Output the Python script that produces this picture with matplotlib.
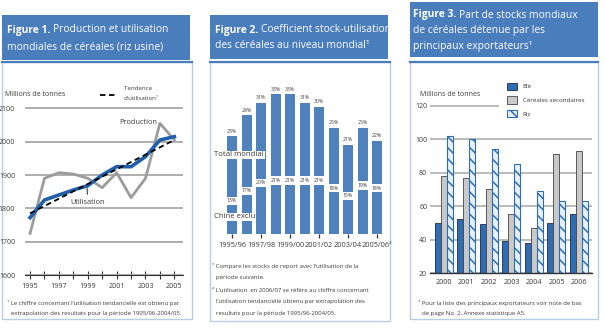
import matplotlib
matplotlib.use('Agg')
import matplotlib.pyplot as plt
from matplotlib.patches import Rectangle, Patch

plt.rcParams['font.family'] = ['Open Sans', 'DejaVu Sans']
plt.rcParams['hatch.linewidth'] = 1.1

# ---------------- data ----------------
years = [1995, 1996, 1997, 1998, 1999, 2000, 2001, 2002, 2003, 2004, 2005]
production = [1725, 1890, 1907, 1903, 1890, 1862, 1907, 1832, 1890, 2055, 2005]
utilisation = [1772, 1825, 1840, 1855, 1868, 1900, 1925, 1925, 1955, 2005, 2015]
tendance = [1785, 1807, 1829, 1851, 1873, 1895, 1917, 1939, 1961, 1983, 2005]
year_labels = ['1995', '', '1997', '', '1999', '', '2001', '', '2003', '', '2005']

seasons = ['1995/96', '1996/97', '1997/98', '1998/99', '1999/00', '2000/01',
           '2001/02', '2002/03', '2003/04', '2004/05', '2005/06']
season_labels = ['1995/96', '1997/98', '1999/00', '2001/02', '2003/04', '2005/06²']
total_mondial = [23, 28, 31, 33, 33, 31, 30, 25, 21, 25, 22]
chine_exclu = [13, 17, 20, 21, 21, 21, 21, 18, 15, 19, 18]

years3 = ['2000', '2001', '2002', '2003', '2004', '2005', '2006']
ble = [50, 52, 49, 39, 38, 50, 55]
cereales = [78, 77, 70, 55, 47, 91, 93]
riz = [102, 100, 94, 85, 69, 63, 63]

# ---------------- styles ----------------
W, H = 605, 328
HEAD = '#4a7dbb'
BORDER = '#b9cde5'
TXT = '#3a3a3a'
GRID = '#a8a8a8'
BAR2 = '#4f81bd'

fig = plt.figure(figsize=(W / 100, H / 100), dpi=100)
renderer = fig.canvas.get_renderer()


def axes_px(x0, y0, x1, y1):
    return [x0 / W, 1 - y1 / H, (x1 - x0) / W, (y1 - y0) / H]


bg = fig.add_axes([0, 0, 1, 1], zorder=0)
bg.set_xlim(0, W)
bg.set_ylim(H, 0)
bg.axis('off')

fg = fig.add_axes([0, 0, 1, 1], zorder=10)
fg.set_xlim(0, W)
fg.set_ylim(H, 0)
fg.axis('off')

panels = [
    dict(hx=(2, 190), hy=(15, 60), bx=(2, 192), by=(62, 319)),
    dict(hx=(210, 388), hy=(15, 59), bx=(210, 390), by=(62, 321)),
    dict(hx=(410, 598), hy=(2, 57), bx=(410, 598), by=(62, 319)),
]
for p in panels:
    bg.add_patch(Rectangle((p['hx'][0], p['hy'][0]), p['hx'][1] - p['hx'][0],
                           p['hy'][1] - p['hy'][0], facecolor=HEAD, edgecolor='none'))
    bg.add_patch(Rectangle((p['bx'][0], p['by'][0]), p['bx'][1] - p['bx'][0],
                           p['by'][1] - p['by'][0], facecolor='white', edgecolor=BORDER, lw=1.0))
    bg.plot([p['bx'][0], p['bx'][1]], [p['by'][0], p['by'][0]], color=HEAD, lw=1.6)

HSIZE = 7.4


def header_line(x, y, bold, rest):
    if bold:
        t = fg.text(x, y, bold, fontsize=HSIZE, fontweight='bold', color='white', va='center')
        bb = t.get_window_extent(renderer=renderer)
        x = fg.transData.inverted().transform((bb.x1, bb.y0))[0] + 2.5
    fg.text(x, y, rest, fontsize=HSIZE, color='white', va='center')


header_line(7, 30, 'Figure 1.', 'Production et utilisation')
header_line(7, 47, '', 'mondiales de céréales (riz usine)')
header_line(215, 30, 'Figure 2.', 'Coefficient stock-utilisation')
header_line(215, 46, '', 'des céréales au niveau mondial¹')
header_line(413, 15, 'Figure 3.', 'Part de stocks mondiaux')
header_line(413, 31, '', 'de céréales détenue par les')
header_line(413, 47, '', 'principaux exportateurs¹')

FN = 4.3


def footnote(x, y, s):
    fg.text(x, y, s, fontsize=FN, color=TXT, va='center')


# ---------------- panel 1 ----------------
ax1 = fig.add_axes(axes_px(25, 100, 183, 275), zorder=2)
ax1.patch.set_alpha(0)
ax1.set_xlim(1994.65, 2005.6)
ax1.set_ylim(1600, 2125)
ax1.set_yticks([1600, 1700, 1800, 1900, 2000, 2100])
ax1.yaxis.grid(True, color=GRID, lw=1.3)
ax1.set_axisbelow(True)
ax1.plot(years, production, color='#9c9c9c', lw=2.0, zorder=3)
ax1.plot(years, utilisation, color='#1f5ea8', lw=2.6, zorder=4)
ax1.plot(years, tendance, color='black', lw=1.3, ls=(0, (3, 2)), zorder=5)
ax1.set_xticks(years)
ax1.set_xticklabels(year_labels)
for s in ['top', 'right', 'left']:
    ax1.spines[s].set_visible(False)
ax1.spines['bottom'].set_color('#333333')
ax1.spines['bottom'].set_linewidth(0.8)
ax1.tick_params(axis='x', direction='inout', length=6, width=0.8, color='#333333',
                labelsize=5.2, labelcolor=TXT, pad=3)
ax1.tick_params(axis='y', length=0, labelsize=5.0, labelcolor=TXT, pad=7)
ax1.text(2002.5, 2059, 'Production', fontsize=5.3, color=TXT, ha='center', va='center')
ax1.annotate('Utilisation', xy=(1998.95, 1861), xytext=(1999.0, 1819), fontsize=5.3,
             color=TXT, ha='center', va='center',
             arrowprops=dict(arrowstyle='-', color='#222222', lw=0.7, shrinkA=1, shrinkB=0))

fg.text(5, 95, 'Millions de tonnes', fontsize=5.0, color=TXT, va='center')
fg.plot([100, 118], [95, 95], color='black', lw=1.3, ls=(0, (3, 2)))
fg.text(124, 89, 'Tendence', fontsize=4.4, color=TXT, va='center')
fg.text(124, 98, "d'utilisation¹", fontsize=4.4, color=TXT, va='center')
footnote(7, 303, '¹ Le chiffre concernant l\u2019utilisation tendancielle est obtenu par')
footnote(11, 313, 'extrapolation des resultats pour la période 1995/96-2004/05.')

# ---------------- panel 2 ----------------
ax2 = fig.add_axes(axes_px(222, 70, 386, 234), zorder=2)
ax2.patch.set_alpha(0)
x2 = list(range(len(seasons)))
ax2.set_xlim(-0.69, 10.62)
ax2.set_ylim(0, 164 / 4.24)
ax2.bar(x2, total_mondial, width=0.69, color=BAR2, edgecolor='none')
for i, v in zip(x2, total_mondial):
    ax2.text(i, v + 0.6, f'{v}%', ha='center', va='bottom', fontsize=3.7, color=TXT)
ax2.set_xticks(x2[::2])
ax2.set_xticklabels(season_labels)
ax2.set_yticks([])
for s in ['top', 'right', 'left', 'bottom']:
    ax2.spines[s].set_visible(False)
ax2.tick_params(axis='x', direction='out', length=3, width=0.9, color='#333333',
                labelsize=5.3, labelcolor=TXT, pad=2.5)

ax2b = ax2.twinx()
ax2b.set_ylim(0, 164 / 2.55)
band = 3.2
ax2b.bar(x2, [band] * len(x2), bottom=[c - band / 2 for c in chine_exclu], width=0.9,
         color='white', edgecolor='none')
for i, c in zip(x2, chine_exclu):
    ax2b.text(i, c, f'{c}%', ha='center', va='center', fontsize=3.7, color=TXT)
ax2b.set_yticks([])
for s in ['top', 'right', 'left', 'bottom']:
    ax2b.spines[s].set_visible(False)

fg.text(214, 155, 'Total mondial', fontsize=5.6, color=TXT, va='center',
        bbox=dict(facecolor='white', edgecolor='none', pad=0.6))
fg.text(214, 217, 'Chine exclu', fontsize=5.6, color=TXT, va='center',
        bbox=dict(facecolor='white', edgecolor='none', pad=0.6))

footnote(212, 266, '¹ Compare les stocks de report avec l\u2019utilisation de la')
footnote(216, 278, 'période suivante.')
footnote(212, 290, '² L\u2019utilisation  en 2006/07 se réfère au chiffre concernant')
footnote(216, 302, 'l\u2019utilisation tendancielle obtenu par extrapolation des')
footnote(216, 313, 'resultats pour la période 1995/96-2004/05.')

# ---------------- panel 3 ----------------
ax3 = fig.add_axes(axes_px(430, 100, 592, 273), zorder=2)
ax3.patch.set_alpha(0)
x3 = list(range(len(years3)))
bw = 0.267
ax3.set_xlim(-0.62, 6.58)
ax3.set_ylim(20, 20 + 173 / 1.6725)
b1 = ax3.bar([i - bw for i in x3], ble, width=bw, color='#2f6db3', edgecolor='#1b2a4a', lw=0.6)
b2 = ax3.bar(x3, cereales, width=bw, color='#c9c9c9', edgecolor='#444444', lw=0.6)
b3 = ax3.bar([i + bw for i in x3], riz, width=bw, color='#e8f1fb', edgecolor='#2f6db3',
             lw=0.8, hatch='\\\\\\')
ax3.set_yticks([20, 40, 60, 80, 100, 120])
ax3.yaxis.grid(True, color=GRID, lw=1.1)
ax3.set_axisbelow(True)
ax3.set_xticks(x3)
ax3.set_xticklabels(years3)
for s in ['top', 'right', 'left']:
    ax3.spines[s].set_visible(False)
ax3.spines['bottom'].set_color('#333333')
ax3.spines['bottom'].set_linewidth(1.0)
ax3.tick_params(axis='x', length=0, labelsize=5.2, labelcolor=TXT, pad=4)
ax3.tick_params(axis='y', length=0, labelsize=5.0, labelcolor=TXT, pad=2)

handles = [Patch(facecolor='#2f6db3', edgecolor='#1b2a4a', lw=0.6),
           Patch(facecolor='#c9c9c9', edgecolor='#444444', lw=0.6),
           Patch(facecolor='#e8f1fb', edgecolor='#2f6db3', lw=0.8, hatch='\\\\')]
leg = ax3.legend(handles, ['Blé', 'Céréales secondaires', 'Riz'], loc='upper left',
                 bbox_to_anchor=(499 / W, 1 - 75 / H), bbox_transform=fig.transFigure,
                 fontsize=4.5, frameon=True, facecolor='white', edgecolor='none',
                 framealpha=1, fancybox=False, borderpad=1.2, borderaxespad=0,
                 handlelength=1.6, handleheight=1.45, labelspacing=1.0, handletextpad=1.0)
for t in leg.get_texts():
    t.set_color(TXT)

fg.text(420, 95, 'Millions de tonnes', fontsize=5.0, color=TXT, va='center')
footnote(418, 303, '¹ Pour la liste des principaux exportateurs voir note de bas')
footnote(422, 313, 'de page No. 2, Annexe statistique A5.')

fig.savefig('out.png', dpi=100)
